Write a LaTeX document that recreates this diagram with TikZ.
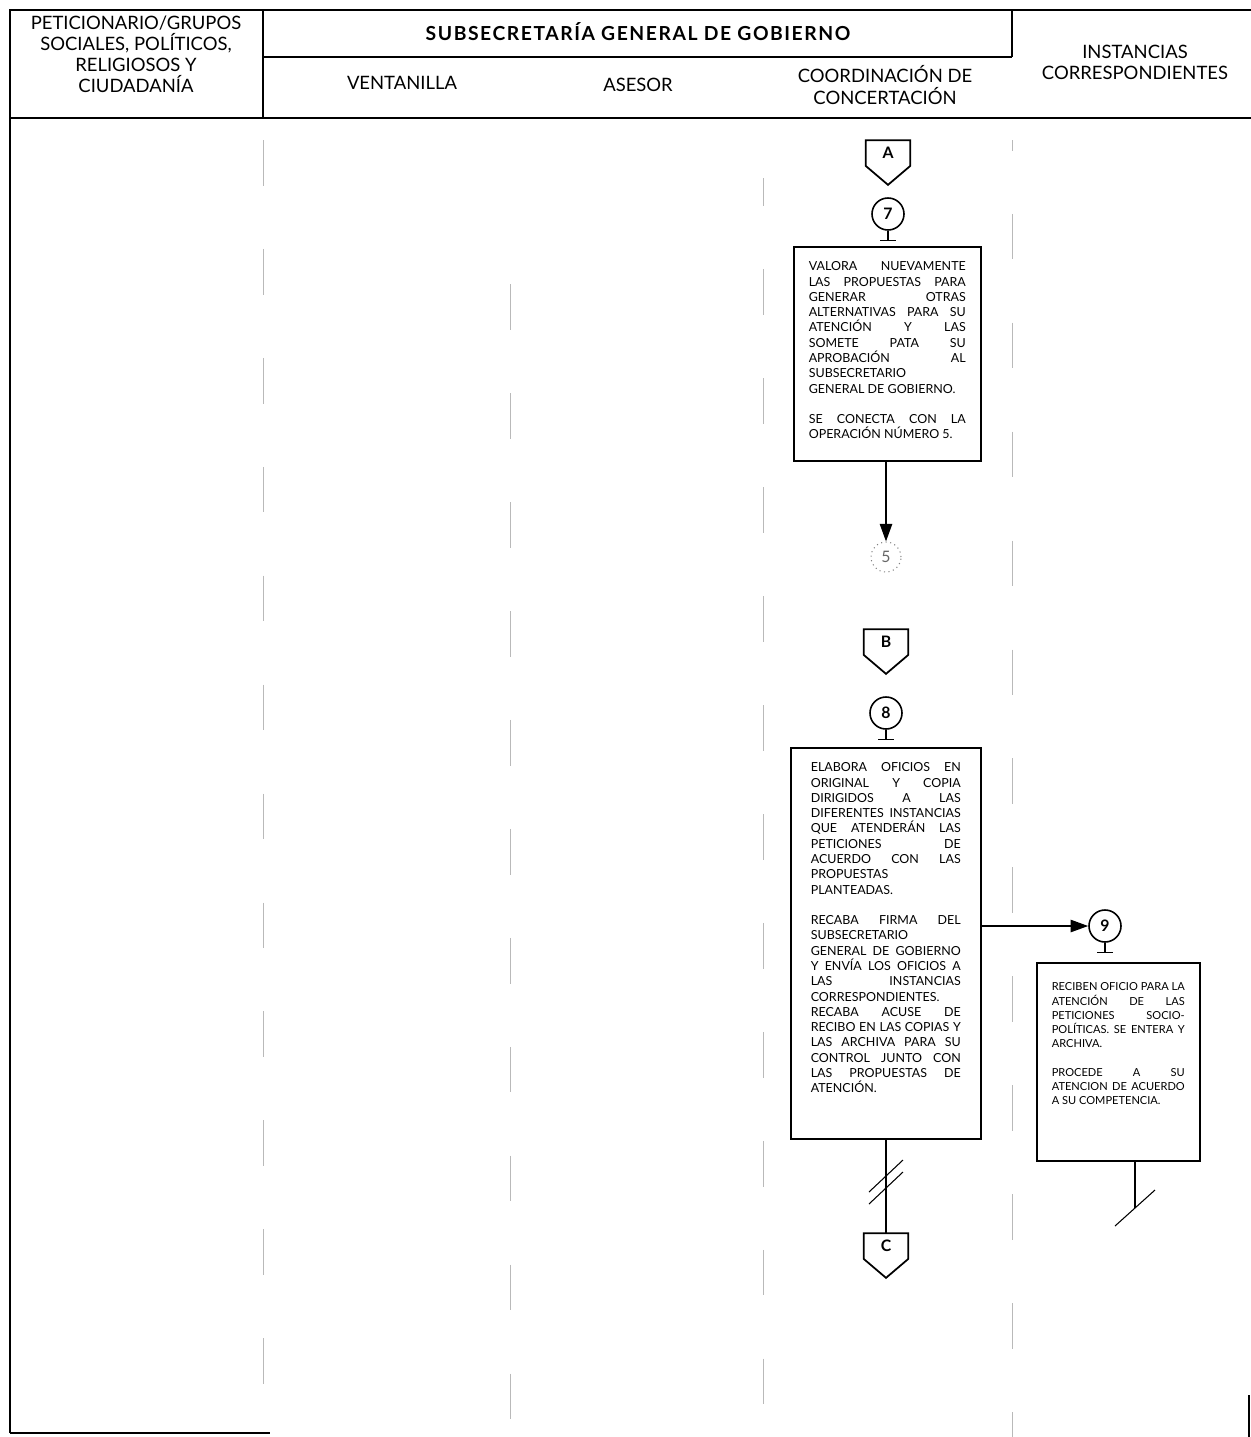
\documentclass[tikz,border=0pt]{standalone}
\usepackage{fontspec}
\setmainfont{Lato}
\usetikzlibrary{positioning,arrows.meta,calc}

\begin{document}
\begin{tikzpicture}[x=0.02cm,y=-0.02cm,
  lane/.style={draw=gray!55,line width=0.5pt,dash pattern=on 26pt off 36pt},
  frame/.style={line width=1.1pt},
  head/.style={font=\fontsize{10.5}{12}\selectfont,align=center},
  offpage/.style={minimum width=0.88cm,minimum height=0.5cm,inner sep=0pt,font=\bfseries\small},
  pent/.style={line width=1pt,line join=miter},
  stepnum/.style={circle,draw,line width=0.9pt,minimum size=0.64cm,inner sep=0pt,font=\bfseries\small},
  task/.style={draw,line width=0.9pt,anchor=north west,inner ysep=0.3cm,font=\fontsize{7.1}{8.7}\selectfont},
  flow/.style={line width=0.9pt,-{Triangle[length=10pt,width=7pt]}}
]
\useasboundingbox (0,0) rectangle (1251,1437);
\hyphenpenalty=10000

% frame and header
\draw[frame] (10,1433) -- (10,10) -- (1251,10);
\draw[frame] (10,118) -- (1251,118);
\draw[frame] (10,1433) -- (270,1433);
\draw[frame] (1249,1395) -- (1249,1437);
\draw[line width=0.8pt] (263,10) -- (263,118);
\draw[line width=0.8pt] (263,57) -- (1012,57);
\draw[line width=0.6pt] (1012,10) -- (1012,57);

\node[head] (hpet) at (136,54) {PETICIONARIO/GRUPOS\\SOCIALES, POLÍTICOS,\\RELIGIOSOS Y\\CIUDADANÍA};
\node[head,font=\bfseries\fontsize{11}{12}\selectfont\addfontfeature{LetterSpace=8}] (hsub) at (638,32) {SUBSECRETARÍA GENERAL DE GOBIERNO};
\node[head] (hven) at (402,83) {VENTANILLA};
\node[head] (hase) at (638,85) {ASESOR};
\node[head] (hcoo) at (885,85) {COORDINACIÓN DE\\CONCERTACIÓN};
\node[head] (hins) at (1135,62) {INSTANCIAS\\CORRESPONDIENTES};

% lanes
\draw[lane] (263,140) -- (263,1437);
\draw[lane,dash phase=30pt] (510,228) -- (510,1437);
\draw[lane,dash phase=10pt] (763,178) -- (763,1437);
\draw[lane,dash phase=20pt] (1012,140) -- (1012,1437);

% first sequence
\node[offpage] (A) at (888,153) {A};
\draw[pent] (A.north west) -- (A.north east) -- (A.south east) -- ($(A.south)+(0,19)$) -- (A.south west) -- cycle;
\node[stepnum] (n7) at (888,214) {7};
\draw[line width=0.6pt] (n7.south) -- ++(0,10) ++(-8,0) -- ++(16,0);
\node[task,inner xsep=0.3cm] (t7) at (793,246) {\parbox[t][3.68cm][t]{3.14cm}{%
VALORA NUEVAMENTE\linebreak
LAS PROPUESTAS PARA\linebreak
GENERAR OTRAS\linebreak
ALTERNATIVAS PARA SU\linebreak
ATENCIÓN Y LAS\linebreak
SOMETE PATA SU\linebreak
APROBACIÓN AL\linebreak
SUBSECRETARIO\linebreak
GENERAL DE GOBIERNO.\\[8.7pt]
SE CONECTA CON LA\linebreak
OPERACIÓN NÚMERO 5.}};
\node[circle,draw=gray,dotted,line width=0.6pt,minimum size=0.6cm,inner sep=0pt,text=gray!80!black,font=\small] (n5) at (886,557) {5};
\draw[flow] (t7.south -| n5) -- (n5.north);

% second sequence
\node[offpage] (B) at (886,642) {B};
\draw[pent] (B.north west) -- (B.north east) -- (B.south east) -- ($(B.south)+(0,19)$) -- (B.south west) -- cycle;
\node[stepnum] (n8) at (886,713) {8};
\draw[line width=0.6pt] (n8.south) -- ++(0,10) ++(-8,0) -- ++(16,0);
\node[task,inner xsep=0.4cm] (t8) at (790,747) {\parbox[t][7.22cm][t]{3.0cm}{%
ELABORA OFICIOS EN\linebreak
ORIGINAL Y COPIA\linebreak
DIRIGIDOS A LAS\linebreak
DIFERENTES INSTANCIAS\linebreak
QUE ATENDERÁN LAS\linebreak
PETICIONES DE\linebreak
ACUERDO CON LAS\linebreak
PROPUESTAS\linebreak
PLANTEADAS.\\[8.7pt]
RECABA FIRMA DEL\linebreak
SUBSECRETARIO\linebreak
GENERAL DE GOBIERNO\linebreak
Y ENVÍA LOS OFICIOS A\linebreak
LAS INSTANCIAS\linebreak
CORRESPONDIENTES.\linebreak
RECABA ACUSE DE\linebreak
RECIBO EN LAS COPIAS Y\linebreak
LAS ARCHIVA PARA SU\linebreak
CONTROL JUNTO CON\linebreak
LAS PROPUESTAS DE\linebreak
ATENCIÓN.}};
\node[offpage] (C) at (886,1246) {C};
\draw[pent] (C.north west) -- (C.north east) -- (C.south east) -- ($(C.south)+(0,19)$) -- (C.south west) -- cycle;
\draw[line width=0.6pt] (t8.south -| C) -- (C.north);
\coordinate (cut8) at (886,1182);
\draw[line width=0.6pt] ($(cut8)+(-17,10)$) -- ($(cut8)+(17,-22)$);
\draw[line width=0.6pt] ($(cut8)+(-17,22)$) -- ($(cut8)+(17,-10)$);

% instancias
\node[stepnum] (n9) at (1105,926) {9};
\draw[flow] (t8.east |- n9) -- (n9.west);
\draw[line width=0.6pt] (n9.south) -- ++(0,10) ++(-8,0) -- ++(16,0);
\node[task,inner xsep=0.3cm,inner ysep=0.4cm,font=\fontsize{6.3}{8.1}\selectfont] (t9) at (1036,962) {\parbox[t][3.16cm][t]{2.66cm}{%
RECIBEN OFICIO PARA LA\linebreak
ATENCIÓN DE LAS\linebreak
PETICIONES SOCIO-\linebreak
POLÍTICAS. SE ENTERA Y\linebreak
ARCHIVA.\\[8.1pt]
PROCEDE A SU\linebreak
ATENCION DE ACUERDO\linebreak
A SU COMPETENCIA.}};
\coordinate (end9) at (1135,1208);
\draw[line width=0.6pt] (t9.south -| end9) -- (end9);
\draw[line width=0.6pt] ($(end9)+(-20,18)$) -- ($(end9)+(20,-18)$);
\end{tikzpicture}
\end{document}
